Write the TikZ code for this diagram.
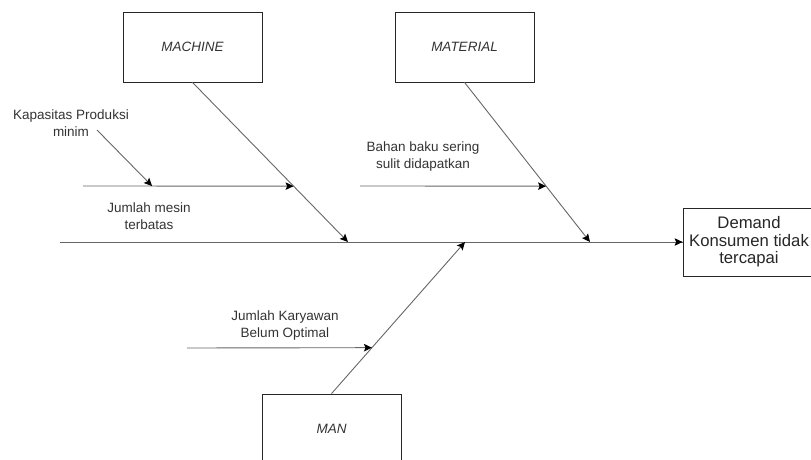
\documentclass[tikz,border=0pt]{standalone}
\usepackage{fontspec}
\setmainfont{Liberation Sans}
\usetikzlibrary{calc, arrows.meta}
\tikzset{
  cause box/.style={draw=black!85, line width=0.8pt, minimum width=139pt, minimum height=70pt, font=\fontsize{13.5}{16}\selectfont\itshape, text=black!80},
  effect box/.style={draw=black!85, line width=0.8pt, minimum width=132pt, minimum height=68pt, align=center, font=\fontsize{16.7}{17.5}\selectfont, text=black!85},
  cause text/.style={align=center, font=\fontsize{13.5}{17}\selectfont, text=black!80},
  bone line/.style={line width=0.9pt, black!60},
  arrow line/.style={bone line, -{Stealth[length=8pt, width=7.5pt, inset=1.5pt, black]}},
}

\begin{document}
\begin{tikzpicture}[x=1pt, y=-1pt]
  \useasboundingbox (0,0) rectangle (811,460);
  % categories and effect
  \node[cause box] (machine) at (192.5,47) {MACHINE};
  \node[cause box] (material) at (464.5,47) {MATERIAL};
  \node[cause box] (man) at (331.5,429) {MAN};
  \node[effect box] (effect) at (749,242) {Demand\\Konsumen tidak\\tercapai};
  % spine
  \coordinate (tail) at (60,242);
  \draw[bone line] (tail) -- (effect.west);
  \draw[arrow line] ($(effect.west)+(-12,0)$) -- (effect.west);
  % main bones
  \coordinate (machine end) at (348,242);
  \coordinate (material end) at (590,242);
  \coordinate (man end) at (465,242);
  \draw[arrow line] (machine.south) -- (machine end);
  \draw[arrow line] (material.south) -- (material end);
  \draw[arrow line] (man.north) -- (man end);
  % sub causes
  \coordinate (mesin start) at (83,186);
  \coordinate (mesin end) at ($(machine.south)!0.65!(machine end)$);
  \draw[arrow line] (mesin start) -- (mesin end);
  \node[cause text] (mesin) at (149,216) {Jumlah mesin\\terbatas};
  \node[cause text] (kapasitas) at (71,123) {Kapasitas Produksi\\minim};
  \coordinate (kapasitas start) at (97,130);
  \coordinate (kapasitas end) at ($(mesin start)!0.328!(mesin end)$);
  \draw[arrow line] (kapasitas start) -- (kapasitas end);
  \coordinate (bahan start) at (360,186);
  \coordinate (bahan end) at ($(material.south)!0.65!(material end)$);
  \draw[arrow line] (bahan start) -- (bahan end);
  \node[cause text] (bahan) at (423,157) {Bahan baku sering\\sulit didapatkan};
  \coordinate (karyawan start) at (187,348);
  \coordinate (karyawan end) at ($(man.north)!0.303!(man end)$);
  \draw[arrow line] (karyawan start) -- (karyawan end);
  \node[cause text] (karyawan) at (285,326) {Jumlah Karyawan\\Belum Optimal};
\end{tikzpicture}
\end{document}
